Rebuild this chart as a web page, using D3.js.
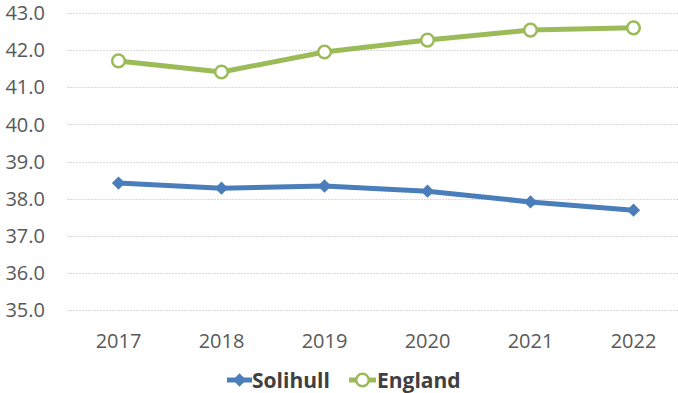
<!DOCTYPE html>
<html>
<head>
<meta charset="utf-8">
<script src="https://cdn.jsdelivr.net/npm/d3@7"></script>
<style>
  body { margin: 0; background: #fff; }
  text { font-family: "Open Sans", sans-serif; }
</style>
</head>
<body>
<div id="chart"></div>
<script>
// Datos del grafico
var years = ["2017", "2018", "2019", "2020", "2021", "2022"];
var solihull = [38.42, 38.28, 38.34, 38.20, 37.91, 37.69];
var england = [41.71, 41.41, 41.95, 42.27, 42.54, 42.60];
var yTicks = [35, 36, 37, 38, 39, 40, 41, 42, 43];

var width = 678, height = 393;
var azul = "#4A7EBB", verde = "#9BBB59";
var svg = d3.select("#chart").append("svg")
  .attr("width", width).attr("height", height);

// Escalas
var x = d3.scaleBand().domain(years).range([67, 685]);
var y = d3.scaleLinear().domain([35, 43]).range([310, 13]);
var cx = function(d, i) { return x(years[i]) + x.bandwidth() / 2; };

// Rejilla
svg.append("g").selectAll("line")
  .data(yTicks).enter().append("line")
  .attr("x1", 67).attr("x2", 685)
  .attr("y1", function(d) { return Math.round(y(d)) + 0.5; })
  .attr("y2", function(d) { return Math.round(y(d)) + 0.5; })
  .attr("stroke", "#d9d9d9").attr("stroke-width", 1)
  .attr("stroke-dasharray", "2,1");

// Etiquetas eje y
svg.append("g").selectAll("text")
  .data(yTicks).enter().append("text")
  .attr("x", 45).attr("y", function(d) { return y(d); })
  .attr("dy", "0.36em")
  .attr("text-anchor", "end")
  .attr("fill", "#595959").style("font-size", "20px")
  .text(function(d) { return d.toFixed(1); });

// Etiquetas eje x
svg.append("g").selectAll("text")
  .data(years).enter().append("text")
  .attr("x", function(d) { return x(d) + x.bandwidth() / 2; })
  .attr("y", 341).attr("dy", "0.36em")
  .attr("text-anchor", "middle")
  .attr("fill", "#595959").style("font-size", "20px")
  .text(function(d) { return d; });

var line = d3.line().x(cx).y(function(d) { return y(d); });

// Rombo (cuadrado girado 45 grados)
var diamond = d3.symbol().type(d3.symbolSquare).size(88);

// Serie England
svg.append("path").attr("d", line(england))
  .attr("fill", "none").attr("stroke", verde).attr("stroke-width", 5)
  .attr("stroke-linejoin", "round");
svg.append("g").selectAll("circle")
  .data(england).enter().append("circle")
  .attr("cx", cx).attr("cy", function(d) { return y(d); })
  .attr("r", 6.3).attr("fill", "#fff")
  .attr("stroke", verde).attr("stroke-width", 2.5);

// Serie Solihull
svg.append("path").attr("d", line(solihull))
  .attr("fill", "none").attr("stroke", azul).attr("stroke-width", 5)
  .attr("stroke-linejoin", "round");
svg.append("g").selectAll("path")
  .data(solihull).enter().append("path")
  .attr("d", diamond)
  .attr("transform", function(d, i) { return "translate(" + cx(d, i) + "," + y(d) + ") rotate(45)"; })
  .attr("fill", azul);

// Leyenda
var leg = svg.append("g");
leg.append("line").attr("x1", 227).attr("x2", 252).attr("y1", 380).attr("y2", 380)
  .attr("stroke", azul).attr("stroke-width", 5);
leg.append("path").attr("d", diamond)
  .attr("transform", "translate(239.5,380) rotate(45)").attr("fill", azul);
leg.append("text").attr("x", 252).attr("y", 380).attr("dy", "0.36em")
  .attr("fill", "#404040").style("font-size", "21px").style("font-weight", "bold")
  .text("Solihull");
leg.append("line").attr("x1", 349).attr("x2", 376).attr("y1", 380).attr("y2", 380)
  .attr("stroke", verde).attr("stroke-width", 5);
leg.append("circle").attr("cx", 362.5).attr("cy", 380).attr("r", 6.3)
  .attr("fill", "#fff").attr("stroke", verde).attr("stroke-width", 2.5);
leg.append("text").attr("x", 377).attr("y", 380).attr("dy", "0.36em")
  .attr("fill", "#404040").style("font-size", "21px").style("font-weight", "bold")
  .text("England");
</script>
</body>
</html>
